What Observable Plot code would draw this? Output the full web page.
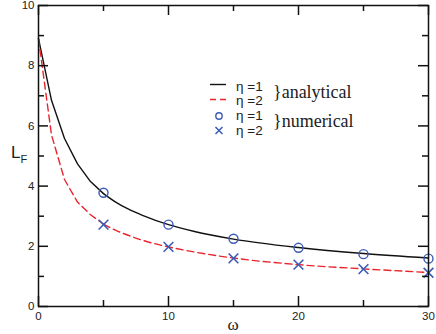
<!DOCTYPE html>
<html><head><meta charset="utf-8">
<script src="https://cdn.jsdelivr.net/npm/d3@7"></script>
<script src="https://cdn.jsdelivr.net/npm/@observablehq/plot@0.6"></script>
<style>
html,body{margin:0;padding:0;background:#fff;}
</style></head>
<body><div id="wrap"></div>
<script>
// analytical curves (eta = 1 solid black, eta = 2 dashed red)
const omegaA = [0, 1, 2, 3, 4, 5, 6, 7, 8, 10, 12, 15, 20, 25, 30];
const lfEta1 = [8.9, 6.85, 5.58, 4.74, 4.15, 3.75, 3.45, 3.22, 3.03, 2.72, 2.49, 2.24, 1.96, 1.76, 1.61];
const lfEta2 = [8.9, 5.7, 4.22, 3.47, 3.05, 2.74, 2.52, 2.35, 2.2, 1.98, 1.81, 1.61, 1.39, 1.25, 1.13];
// numerical points
const omegaN = [5, 10, 15, 20, 25, 30];
const numEta1 = [3.78, 2.72, 2.25, 1.95, 1.74, 1.59];
const numEta2 = [2.72, 1.98, 1.6, 1.39, 1.24, 1.12];
// ticks
const xMajor = [0, 10, 20, 30];
const xMinor = [5, 15, 25];
const yMajor = [0, 2, 4, 6, 8, 10];
const yMinor = [1, 3, 5, 7, 9];

const anal1 = omegaA.map((w, i) => ({w, v: lfEta1[i]}));
const anal2 = omegaA.map((w, i) => ({w, v: lfEta2[i]}));
const n1 = omegaN.map((w, i) => ({w, v: numEta1[i]}));
const n2 = omegaN.map((w, i) => ({w, v: numEta2[i]}));
const lowPart = d => d.filter(p => p.w <= 5);
const highPart = d => d.filter(p => p.w >= 5);

const BLUE = "#3b5bb5", RED = "#e8242c", INK = "#111";
const W = 436, H = 334, ML = 38, MR = 8, MT = 5, MB = 28;
const FW = W - ML - MR, FH = H - MT - MB;
const MAJ = 10, MIN = 6;
const tickOpts = {stroke: INK, strokeWidth: 1.5};

const chart = Plot.plot({
  width: W, height: H,
  marginLeft: ML, marginRight: MR, marginTop: MT, marginBottom: MB,
  x: {domain: [0, 30]},
  y: {domain: [0, 10]},
  style: {fontFamily: "'Liberation Sans', Arial, sans-serif", fontSize: "11.5px", color: "#222", background: "white"},
  marks: [
    Plot.axisX({ticks: xMajor, tickSize: 0, tickPadding: 5, label: null, fontSize: 11.5}),
    Plot.axisY({ticks: yMajor, tickSize: 0, tickPadding: 4, label: null, fontSize: 11.5}),
    Plot.line(lowPart(anal1), {x: "w", y: "v", stroke: INK, strokeWidth: 1.4}),
    Plot.line(highPart(anal1), {x: "w", y: "v", stroke: INK, strokeWidth: 1.4, curve: "monotone-x"}),
    Plot.line(lowPart(anal2), {x: "w", y: "v", stroke: RED, strokeWidth: 1.4, strokeDasharray: "7,4"}),
    Plot.line(highPart(anal2), {x: "w", y: "v", stroke: RED, strokeWidth: 1.4, strokeDasharray: "7,4", curve: "monotone-x"}),
    Plot.dot(n1, {x: "w", y: "v", r: 4.5, stroke: BLUE, strokeWidth: 1.4, fill: "none"}),
    Plot.dot(n2, {x: "w", y: "v", r: 4.5, symbol: "times", stroke: BLUE, strokeWidth: 1.6}),
    Plot.frame({stroke: INK, strokeWidth: 1.5}),
    // inward ticks on all four sides
    Plot.tickX(xMajor, {x: d => d, insetTop: FH - MAJ, ...tickOpts}),
    Plot.tickX(xMajor, {x: d => d, insetBottom: FH - MAJ, ...tickOpts}),
    Plot.tickX(xMinor, {x: d => d, insetTop: FH - MIN, ...tickOpts}),
    Plot.tickX(xMinor, {x: d => d, insetBottom: FH - MIN, ...tickOpts}),
    Plot.tickY(yMajor, {y: d => d, insetRight: FW - MAJ, ...tickOpts}),
    Plot.tickY(yMajor, {y: d => d, insetLeft: FW - MAJ, ...tickOpts}),
    Plot.tickY(yMinor, {y: d => d, insetRight: FW - MIN, ...tickOpts}),
    Plot.tickY(yMinor, {y: d => d, insetLeft: FW - MIN, ...tickOpts})
  ]
});
document.getElementById("wrap").appendChild(chart);

// axis titles and legend, drawn into the same svg
const ov = d3.select(chart).append("g")
  .attr("font-family", "'Liberation Sans', Arial, sans-serif").attr("text-anchor", "start");
const serif = "'Liberation Serif', 'Times New Roman', serif";
const lt = ov.append("text").attr("x", 11).attr("y", 158).attr("font-size", 17).attr("fill", "#222");
lt.append("tspan").text("L");
lt.append("tspan").attr("font-size", 11).attr("dy", 5).text("F");
ov.append("text").attr("x", 233).attr("y", 330).attr("text-anchor", "middle")
  .attr("font-size", 17).attr("font-family", serif).attr("fill", "#222").text("ω");

const lg = ov.append("g");
lg.append("line").attr("x1", 210).attr("x2", 226).attr("y1", 84.5).attr("y2", 84.5).attr("stroke", INK).attr("stroke-width", 1.4);
lg.append("line").attr("x1", 210).attr("x2", 227).attr("y1", 99.5).attr("y2", 99.5).attr("stroke", RED).attr("stroke-width", 1.4).attr("stroke-dasharray", "6,4");
lg.append("circle").attr("cx", 219).attr("cy", 116).attr("r", 3.2).attr("fill", "none").attr("stroke", BLUE).attr("stroke-width", 1.4);
lg.append("path").attr("d", "M215.5,127 L222.5,134 M222.5,127 L215.5,134").attr("stroke", BLUE).attr("stroke-width", 1.5);
const etas = [["η =1", 91], ["η =2", 105], ["η =1", 120], ["η =2", 135]];
etas.forEach(([t, y]) => lg.append("text").attr("x", 236).attr("y", y).attr("font-size", 13.5).attr("fill", "#222").text(t));
lg.append("text").attr("x", 273).attr("y", 98).attr("font-size", 18).attr("font-family", serif).attr("fill", "#222").text("}analytical");
lg.append("text").attr("x", 273).attr("y", 127).attr("font-size", 18).attr("font-family", serif).attr("fill", "#222").text("}numerical");
</script></body></html>
